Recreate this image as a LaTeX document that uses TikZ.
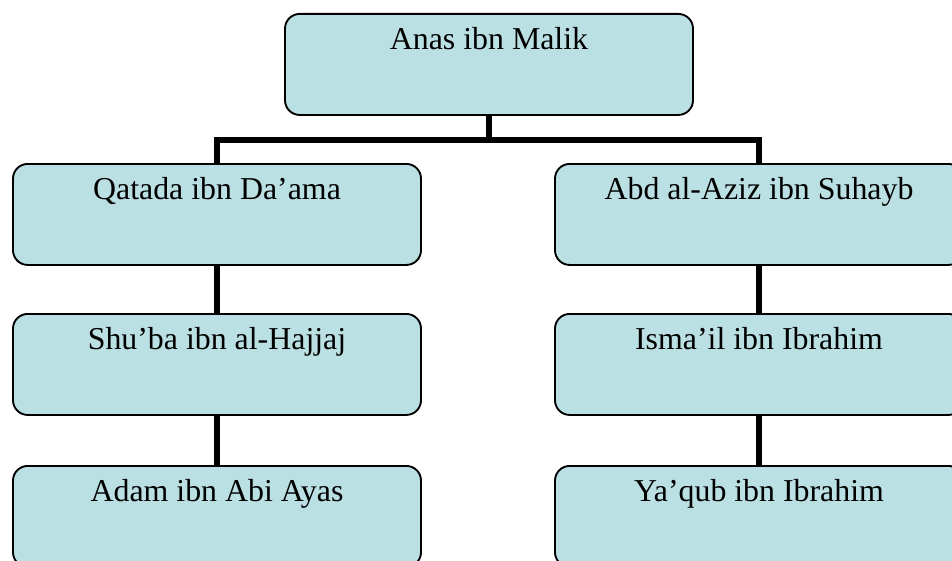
\documentclass[tikz,border=0pt]{standalone}
\usepackage{fontspec}
\setmainfont{Liberation Serif}
\usepackage{tikz}
\definecolor{boxfill}{HTML}{BBE0E3}
\tikzstyle{namebox}=[draw=black,fill=boxfill,rounded corners=11pt,line width=1.4pt,
                     inner sep=0pt,minimum width=306pt,text height=27pt,text depth=48.75pt,
                     anchor=north,font=\fontsize{23.9}{28}\selectfont]
\tikzstyle{link}=[draw=black,line width=3.9pt]

\begin{document}
\begin{tikzpicture}[x=0.75pt,y=-0.75pt]
    \newcommand{\lx}{217}
    \newcommand{\rx}{759}
    \clip (0,0) rectangle (952,560);
    \node (anas) at (489,13) [namebox]{Anas ibn Malik};
    \node (qatada) at (\lx,163) [namebox]{Qatada ibn Da’ama};
    \node (shuba) at (\lx,313) [namebox]{Shu’ba ibn al-Hajjaj};
    \node (adam) at (\lx,465) [namebox]{Adam ibn Abi Ayas};
    \node (abd) at (\rx,163) [namebox]{Abd al-Aziz ibn Suhayb};
    \node (ismail) at (\rx,313) [namebox]{Isma’il ibn Ibrahim};
    \node (yaqub) at (\rx,465) [namebox]{Ya’qub ibn Ibrahim};
    \coordinate (fork) at (489,140);
    \draw[link] (anas.south) -- (fork);
    \draw[link] (qatada.north) |- (fork) -| (abd.north);
    \draw[link] (qatada.south) -- (shuba.north);
    \draw[link] (shuba.south) -- (adam.north);
    \draw[link] (abd.south) -- (ismail.north);
    \draw[link] (ismail.south) -- (yaqub.north);
  \end{tikzpicture}
\end{document}
